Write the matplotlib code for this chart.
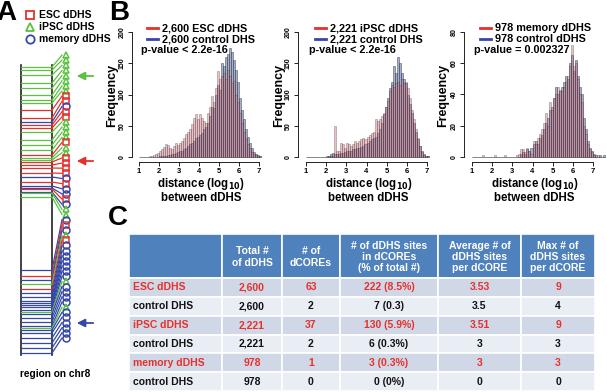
import matplotlib
matplotlib.use('Agg')
import matplotlib.pyplot as plt
import numpy as np
from matplotlib.lines import Line2D
from matplotlib.patches import Rectangle

plt.rcParams['font.family'] = ['Liberation Sans', 'DejaVu Sans']
plt.rcParams['font.weight'] = 'bold'

RED = '#e8302a'
GREEN = '#5cc040'
BLUE = '#3548a8'

# ---------------- data ----------------
# panel A: dDHS sites on chr8 (type, position in Mb), top to bottom
site_types = (['iPSC'] * 8 +
              ['ESC', 'ESC', 'memory', 'ESC', 'ESC', 'iPSC', 'iPSC', 'iPSC', 'iPSC', 'ESC',
               'iPSC', 'iPSC', 'ESC', 'ESC', 'ESC', 'ESC', 'memory', 'ESC', 'memory', 'memory',
               'ESC', 'memory', 'iPSC', 'iPSC'] +
              ['memory', 'ESC', 'memory', 'iPSC', 'ESC', 'memory', 'memory', 'memory', 'memory',
               'memory', 'memory', 'memory', 'iPSC', 'memory', 'memory', 'memory', 'memory', 'iPSC',
               'memory', 'memory', 'memory', 'memory', 'memory', 'memory'])
site_pos = [1, 2.5, 5, 9, 11.5, 15, 17.5, 19,
            22.5, 26.5, 28.5, 30, 31.5, 33.5, 37.5, 40, 42.5, 45,
            46.5, 47.5, 48.5, 50, 51.5, 54, 56, 58.5, 60.5, 61.5,
            62, 63.5, 64, 66,
            102.5, 105.5, 107.5, 109.5, 112, 114, 116, 118, 119,
            120, 121, 122.5, 123.5, 124.5, 126.5, 128.5, 130.5, 131.5,
            132.5, 134, 136.5, 139, 141.5, 144]
chr_length = 145

# panel B: histogram counts, bins of 0.1 starting at log10 distance 1.0
esc_ddhs = [0, 0, 0, 0, 0, 1, 2, 3, 5, 7,
            10, 12, 16, 21, 19, 15, 12, 17, 22, 19,
            22, 25, 30, 36, 40, 45, 52, 62, 68, 60,
            68, 62, 58, 55, 70, 80, 98, 88, 110, 138,
            125, 130, 135, 125, 140, 130, 118, 122, 100, 88,
            70, 55, 40, 28, 20, 14, 8, 5, 3, 2,
            1]
esc_ctrl = [0, 0, 0, 0, 0, 0, 0, 0, 0, 0,
            1, 1, 2, 2, 3, 3, 4, 5, 6, 8,
            9, 10, 12, 15, 18, 20, 22, 25, 30, 32,
            35, 38, 45, 48, 55, 65, 80, 78, 100, 115,
            108, 150, 145, 160, 165, 175, 168, 155, 140, 120,
            95, 75, 60, 45, 32, 22, 15, 8, 5, 3,
            1]
ipsc_ddhs = [0, 0, 0, 0, 0, 0, 0, 0, 0, 0,
             0, 1, 2, 2, 50, 10, 10, 22, 20, 15,
             22, 20, 18, 20, 25, 22, 25, 28, 30, 28,
             32, 35, 38, 40, 60, 58, 60, 65, 70, 80,
             90, 105, 115, 112, 118, 120, 115, 125, 118, 120,
             110, 95, 75, 60, 45, 30, 18, 8, 3, 2,
             1]
ipsc_ctrl = [0, 0, 0, 0, 0, 0, 0, 0, 0, 0,
             1, 2, 4, 6, 5, 4, 5, 6, 7, 8,
             9, 10, 10, 12, 12, 14, 15, 16, 18, 20,
             22, 25, 28, 30, 32, 38, 45, 55, 68, 80,
             95, 110, 120, 145, 135, 160, 150, 135, 125, 118,
             100, 85, 70, 55, 40, 28, 18, 10, 5, 2,
             1]
mem_ddhs = [0, 0, 0, 0, 0, 1, 0, 0, 0, 0,
            0, 1, 0, 0, 0, 0, 1, 0, 0, 0,
            0, 0, 1, 2, 5, 5, 3, 6, 4, 2,
            10, 8, 12, 15, 18, 22, 28, 20, 35, 30,
            38, 40, 45, 43, 42, 45, 48, 52, 58, 72,
            58, 60, 50, 40, 35, 20, 15, 8, 5, 3,
            1, 0, 1, 0, 0, 0]
mem_ctrl = [0, 0, 0, 0, 0, 0, 0, 0, 0, 0,
            0, 0, 0, 0, 0, 0, 0, 0, 0, 0,
            0, 0, 0, 0, 2, 3, 2, 5, 4, 6,
            8, 10, 8, 12, 14, 18, 22, 25, 30, 32,
            38, 45, 40, 42, 45, 48, 52, 50, 60, 65,
            55, 62, 52, 45, 40, 25, 18, 10, 6, 4,
            2, 1, 0, 1, 0, 1]

hist_legends = [['2,600 ESC dDHS', '2,600 control DHS'],
                ['2,221 iPSC dDHS', '2,221 control DHS'],
                ['978 memory dDHS', '978 control dDHS']]
p_values = ['p-value < 2.2e-16', 'p-value < 2.2e-16', 'p-value = 0.002327']

# panel C: table
col_headers = ['', 'Total #\nof dDHS', '# of\ndCOREs', '# of dDHS sites\nin dCOREs\n(% of total #)',
               'Average # of\ndDHS sites\nper dCORE', 'Max # of\ndDHS sites\nper dCORE']
row_names = ['ESC dDHS', 'control DHS', 'iPSC dDHS', 'control DHS', 'memory dDHS', 'control DHS']
total_ddhs = ['2,600', '2,600', '2,221', '2,221', '978', '978']
n_dcores = ['63', '2', '37', '2', '1', '0']
sites_in_dcores = ['222 (8.5%)', '7 (0.3)', '130 (5.9%)', '6 (0.3%)', '3 (0.3%)', '0 (0%)']
avg_sites = ['3.53', '3.5', '3.51', '3', '3', '0']
max_sites = ['9', '4', '9', '3', '3', '0']

# ---------------- figure ----------------
W, H = 607, 392
fig = plt.figure(figsize=(W / 100, H / 100), dpi=100)


def px_axes(x0, y0, x1, y1):
    return fig.add_axes([x0 / W, 1 - y1 / H, (x1 - x0) / W, (y1 - y0) / H])


# ----- panel A -----
axA = px_axes(0, 0, 120, H)
axA.set_xlim(0, 120)
axA.set_ylim((H - 65) / 2, -65 / 2)
axA.axis('off')

styles = {'ESC': (RED, 's'), 'iPSC': (GREEN, '^'), 'memory': (BLUE, 'o')}
chr_left, chr_right, fan_end, mark_x = 21, 52, 62, 66
axA.plot([chr_left, chr_left], [0, chr_length], color='#222222', lw=1.2)
axA.plot([chr_right, chr_right], [0, chr_length], color='#222222', lw=1.2)
mark_y = np.linspace(-5, 136.5, len(site_types))
for t, p, my in zip(site_types, site_pos, mark_y):
    c = styles[t][0]
    axA.plot([chr_left, chr_right], [p, p], color=c, lw=0.9)
    axA.plot([chr_right, fan_end], [p, my], color=c, lw=0.9)
for t, my in zip(site_types, mark_y):
    c, m = styles[t]
    axA.plot(mark_x, my, marker=m, ms=5, mfc='none', mec=c, mew=1.1)

for c, y in [(GREEN, 5.5), (RED, 48), (BLUE, 129)]:
    axA.annotate('', xy=(74, y), xytext=(96, y),
                 arrowprops=dict(arrowstyle='-|>', color=c, lw=1.3, mutation_scale=12))

handles = [Line2D([], [], ls='none', marker='s', ms=6, mfc='none', mec=RED, mew=1.3),
           Line2D([], [], ls='none', marker='^', ms=6, mfc='none', mec=GREEN, mew=1.3),
           Line2D([], [], ls='none', marker='o', ms=6, mfc='none', mec=BLUE, mew=1.3)]
fig.legend(handles, ['ESC dDHS', 'iPSC dDHS', 'memory dDHS'], loc='upper left',
           bbox_to_anchor=(19 / W, 1 - 5 / H), frameon=False,
           handletextpad=0.2, labelspacing=0.2, borderpad=0, handlelength=1.2,
           prop={'weight': 'bold', 'size': 7.5})
axA.text(55, (374 - 65) / 2, 'region on chr8', ha='center', va='center', fontsize=7.3)

fig.text(-4 / W, 1 - 13 / H, 'A', fontsize=20, va='center', ha='left')
fig.text(109 / W, 1 - 13.5 / H, 'B', fontsize=20, va='center', ha='left')
fig.text(108 / W, 1 - 218 / H, 'C', fontsize=20, va='center', ha='left')

# ----- panel B -----
panels = [
    (esc_ddhs, esc_ctrl, 132, 139, 259, 266, 200, [0, 50, 100, 150, 200], 112),
    (ipsc_ddhs, ipsc_ctrl, 298, 306, 427, 434, 200, [0, 50, 100, 150, 200], 279),
    (mem_ddhs, mem_ctrl, 464, 472, 593, 607, 80, [0, 20, 40, 60, 80], 443),
]
for i, (red_c, blue_c, spine_px, x1_px, x7_px, right_px, ymax, yticks, ylab_px) in enumerate(panels):
    ax = px_axes(spine_px, 28, right_px, 162)
    ppu = (x7_px - x1_px) / 6.0
    ax.set_xlim(1 - (x1_px - spine_px) / ppu, 1 + (right_px - x1_px) / ppu)
    ppc = (157 - 32) / ymax
    ax.set_ylim(-(162 - 157) / ppc, (157 - 28) / ppc)
    edges = 1.0 + 0.1 * np.arange(len(red_c))
    ax.bar(edges, blue_c, width=0.1, align='edge', color='#7b8fc0', alpha=0.7,
           edgecolor='#222222', linewidth=0.4)
    ax.bar(edges, red_c, width=0.1, align='edge', color='#d87382', alpha=0.45,
           edgecolor='#222222', linewidth=0.4)
    for s in ['top', 'right']:
        ax.spines[s].set_visible(False)
    ax.spines['left'].set_bounds(0, ymax)
    ax.spines['bottom'].set_bounds(1, 7)
    ax.spines['left'].set_linewidth(0.6)
    ax.spines['bottom'].set_linewidth(0.6)
    ax.set_xticks(range(1, 8))
    ax.set_yticks(yticks)
    ax.tick_params(axis='x', labelsize=5.5, length=3, width=0.6, pad=1.5)
    ax.tick_params(axis='y', labelsize=5, length=3, width=0.6, pad=1.5)
    for lab in ax.get_yticklabels():
        lab.set_rotation(90)
        lab.set_va('center')
    ax.patch.set_visible(False)

    lx = [142, 310, 475][i]
    hh = [Line2D([], [], color=RED, lw=2), Line2D([], [], color=BLUE, lw=2)]
    fig.legend(hh, hist_legends[i], loc='upper left', bbox_to_anchor=(lx / W, 1 - 18 / H),
               frameon=False, borderpad=0, handlelength=1.0, handletextpad=0.35,
               labelspacing=0.1, prop={'weight': 'bold', 'size': 7.8})
    fig.text((lx - 1) / W, 1 - 50 / H, p_values[i], fontsize=7.8, va='center', ha='left')
    fig.text(ylab_px / W, 1 - 95 / H, 'Frequency', rotation=90, fontsize=9,
             va='center', ha='center')
    cx = (x1_px + x7_px) / 2 + 2
    fig.text(cx / W, 1 - 184 / H, 'distance (log$_{\\mathbf{10}}$)', fontsize=8.3,
             va='center', ha='center')
    fig.text(cx / W, 1 - 198 / H, 'between dDHS', fontsize=8.3, va='center', ha='center')

# ----- panel C -----
axC = px_axes(129, 234, 595, 391)
col_edges = [129, 222, 282, 340, 438, 521, 595]
head_h = 44
row_h = (391 - 234 - head_h) / len(row_names)
axC.set_xlim(129, 595)
axC.set_ylim(391, 234)
axC.axis('off')
for j in range(len(col_headers)):
    axC.add_patch(Rectangle((col_edges[j], 234), col_edges[j + 1] - col_edges[j], head_h,
                            facecolor='#4f81bd', edgecolor='white', lw=1.2))
    axC.text((col_edges[j] + col_edges[j + 1]) / 2, 234 + head_h / 2 + 1, col_headers[j],
             color='white', fontsize=7.5, ha='center', va='center', linespacing=1.15)
columns = [total_ddhs, n_dcores, sites_in_dcores, avg_sites, max_sites]
for r, name in enumerate(row_names):
    y0 = 234 + head_h + r * row_h
    is_red = r % 2 == 0
    fc = '#d0d8e8' if is_red else '#e9edf4'
    tc = RED if is_red else '#111111'
    for j in range(len(col_headers)):
        axC.add_patch(Rectangle((col_edges[j], y0), col_edges[j + 1] - col_edges[j], row_h,
                                facecolor=fc, edgecolor='white', lw=1.2))
    axC.text(col_edges[0] + 4, y0 + row_h / 2, name, color=tc, fontsize=7.5,
             ha='left', va='center')
    for j, col in enumerate(columns):
        axC.text((col_edges[j + 1] + col_edges[j + 2]) / 2, y0 + row_h / 2, col[r],
                 color=tc, fontsize=7.5, ha='center', va='center')

fig.savefig('out.png', dpi=100)
